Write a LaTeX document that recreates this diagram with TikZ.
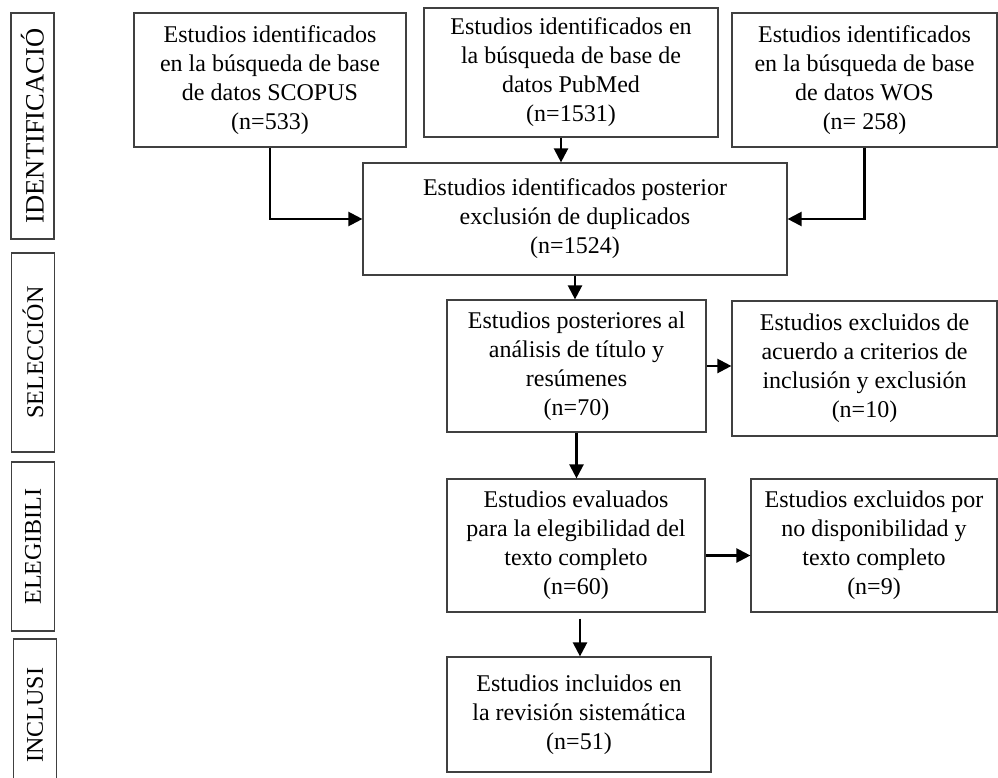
\documentclass[tikz,border=0pt]{standalone}
\usepackage{fontspec}
\setmainfont{Liberation Serif}
\usetikzlibrary{positioning,arrows.meta}

\begin{document}
\begin{tikzpicture}[x=1pt,y=-1pt,
	box/.style={draw=black!75,line width=1.2pt,align=center,inner sep=1pt,font=\fontsize{24}{29}\selectfont},
	phase/.style={draw=black!75,line width=1.2pt,rotate=90,minimum height=43pt,inner sep=0pt,font=\fontsize{24}{29}\selectfont},
	flow/.style={line width=2.3pt,-{Triangle[length=14pt,width=14pt]}}]
	\useasboundingbox (0,0) rectangle (998,778);
	% fases
	\node[phase,minimum width=226pt,font=\fontsize{26.5}{29}\selectfont] at (32.5,126) (fident) {IDENTIFICACIÓ};
	\node[phase,minimum width=199pt] at (33,352.5) (fsel) {SELECCIÓN};
	\node[phase,minimum width=169pt] at (33,546.5) (feleg) {ELEGIBILI};
	\node[phase,minimum width=152pt] at (35,715) (fincl) {INCLUSI};
	% cajas
	\node[box,minimum width=272pt,minimum height=134pt] at (270,80) (scopus) {Estudios identificados\\en la búsqueda de base\\de datos SCOPUS\\(n=533)};
	\node[box,minimum width=294pt,minimum height=129pt] at (571,72.5) (pubmed) {Estudios identificados en\\la búsqueda de base de\\datos PubMed\\(n=1531)};
	\node[box,minimum width=265pt,minimum height=134pt] at (864.5,80) (wos) {Estudios identificados\\en la búsqueda de base\\de datos WOS\\(n= 258)};
	\node[box,minimum width=424pt,minimum height=112pt] at (575,219) (dup) {Estudios identificados posterior\\exclusión de duplicados\\(n=1524)};
	\node[box,minimum width=259pt,minimum height=132pt] at (576.5,366) (titulo) {Estudios posteriores al\\análisis de título y\\resúmenes\\(n=70)};
	\node[box,minimum width=265pt,minimum height=135pt] at (864.5,368.5) (exclcrit) {Estudios excluidos de\\acuerdo a criterios de\\inclusión y exclusión\\(n=10)};
	\node[box,minimum width=258pt,minimum height=133pt] at (576,545.5) (eval) {Estudios evaluados\\para la elegibilidad del\\texto completo\\(n=60)};
	\node[box,minimum width=246pt,minimum height=133pt] at (874,545.5) (excldisp) {Estudios excluidos por\\no disponibilidad y\\texto completo\\(n=9)};
	\node[box,minimum width=264pt,minimum height=115pt] at (579,714.5) (incl) {Estudios incluidos en\\la revisión sistemática\\(n=51)};
	% flechas
	\draw[flow] (scopus.south) |- (dup.west);
	\draw[flow] (wos.south) |- (dup.east);
	\draw[flow] ([xshift=-10pt]pubmed.south) -- ([xshift=-10pt]pubmed.south |- dup.north);
	\draw[flow] (dup.south) -- (dup.south |- titulo.north);
	\draw[flow] (titulo.east) -- (titulo.east -| exclcrit.west);
	\draw[flow] (titulo.south) -- (titulo.south |- eval.north);
	\draw[flow] ([yshift=-10pt]eval.east) -- ([yshift=-10pt]eval.east -| excldisp.west);
	\draw[flow] ([xshift=4pt,yshift=-6pt]eval.south) -- ([xshift=4pt]eval.south |- incl.north);
\end{tikzpicture}
\end{document}
